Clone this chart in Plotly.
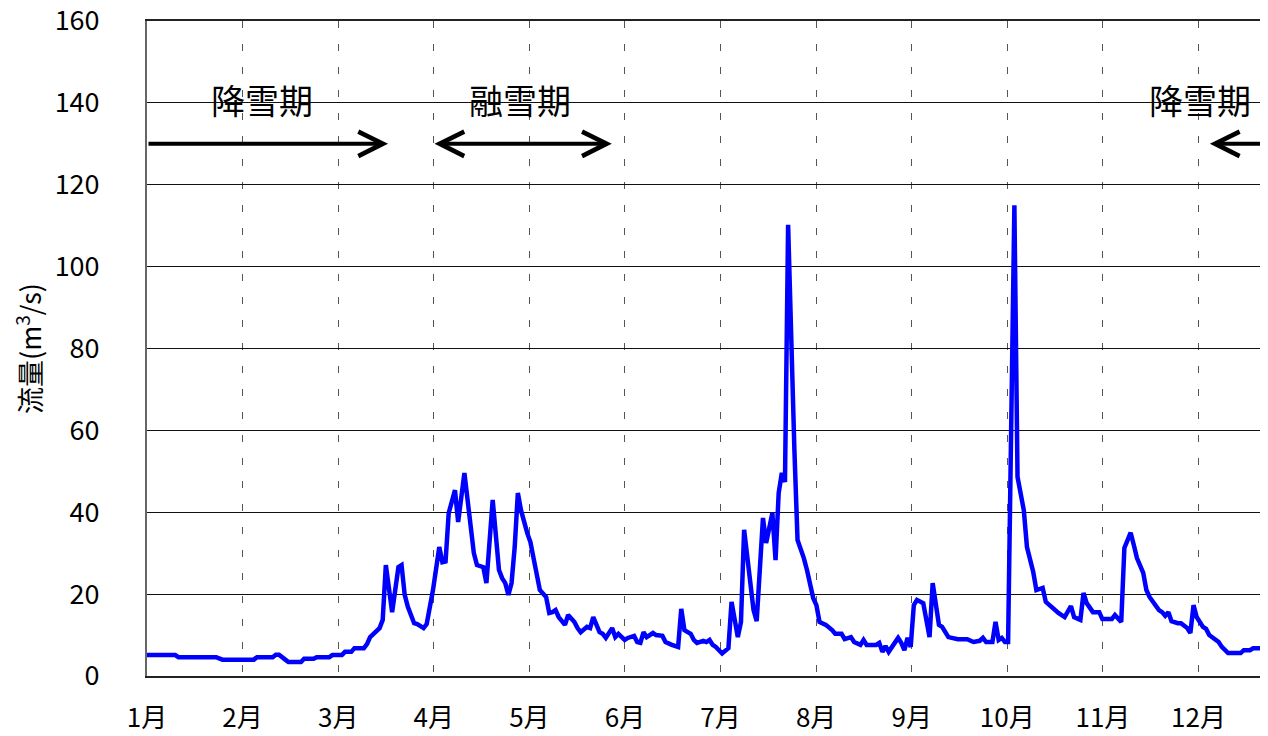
import plotly.graph_objects as go

# ---- data (day of year, discharge m3/s) ----
days = [0, 9, 10, 22, 24, 34, 35, 40, 41, 42, 44, 45, 49, 50, 53, 54, 58, 59, 62, 63,
        65, 66, 69, 70, 71, 73, 74, 75, 76, 78, 80, 81, 82, 83, 85, 86, 88, 89, 91, 93,
        94, 95, 96, 98, 99, 101, 104, 105, 107, 108, 110, 112, 113, 114, 115, 116, 117, 118, 119, 121,
        122, 123, 124, 125, 127, 128, 129, 130, 131, 132, 133, 134, 136, 137, 138, 140, 141, 142, 144, 145,
        146, 148, 149, 150, 152, 153, 155, 156, 157, 158, 159, 161, 162, 164, 165, 167, 169, 170, 171, 173,
        174, 175, 177, 178, 179, 180, 181, 183, 185, 186, 188, 189, 190, 193, 194, 196, 197, 199, 200, 201,
        202, 203, 204, 206, 207, 209, 210, 212, 213, 214, 216, 218, 219, 221, 222, 224, 225, 227, 228, 229,
        232, 233, 234, 235, 236, 239, 240, 241, 242, 243, 244, 245, 247, 249, 250, 252, 253, 255, 258, 261,
        263, 265, 266, 267, 269, 270, 271, 272, 273, 274, 276, 277, 279, 280, 281, 282, 283, 285, 286, 288,
        290, 292, 294, 295, 297, 298, 299, 301, 303, 304, 307, 308, 310, 311, 312, 313, 314, 315, 317, 318,
        319, 321, 322, 323, 324, 325, 326, 328, 329, 331, 332, 333, 334, 336, 337, 338, 340, 341, 342, 344,
        348, 349, 351, 352, 357]
flow = [5.1, 5.1, 4.6, 4.6, 4.0, 4.0, 4.6, 4.6, 5.2, 5.2, 4.0, 3.4, 3.4, 4.2, 4.2, 4.6, 4.6, 5.1, 5.1, 5.9,
        5.9, 6.8, 6.8, 7.8, 9.5, 11.0, 11.7, 13.7, 27.1, 15.6, 26.6, 27.1, 19.8, 16.9, 12.9, 12.7, 11.7, 12.7, 21.0, 31.5,
        27.8, 28.0, 39.8, 45.4, 37.6, 49.6, 30.0, 27.1, 26.6, 22.7, 43.0, 25.9, 23.9, 22.7, 19.8, 22.7, 31.5, 44.7, 40.5, 34.9,
        32.7, 28.8, 24.2, 21.0, 19.3, 15.4, 15.6, 16.1, 14.4, 13.2, 12.5, 14.9, 13.2, 11.7, 10.7, 12.0, 11.7, 14.4, 10.7, 10.3,
        9.3, 11.7, 9.5, 10.3, 8.8, 9.3, 9.8, 8.3, 8.1, 10.7, 9.5, 10.5, 10.0, 9.8, 8.3, 7.6, 7.1, 16.4, 11.2, 10.3,
        8.8, 8.1, 8.6, 8.3, 8.8, 7.6, 7.1, 5.5, 6.8, 18.1, 9.5, 13.2, 35.7, 16.1, 13.4, 38.6, 32.5, 39.8, 28.3, 44.7,
        49.6, 47.4, 110.2, 55.2, 33.2, 28.8, 25.9, 19.0, 17.3, 13.2, 12.5, 11.2, 10.3, 10.3, 9.0, 9.5, 8.3, 7.6, 8.8, 7.6,
        7.6, 8.1, 5.9, 7.3, 5.9, 9.3, 8.1, 6.3, 9.3, 7.1, 17.3, 18.6, 17.8, 9.5, 22.7, 12.5, 12.0, 9.5, 9.0, 9.0,
        8.3, 8.6, 9.3, 8.3, 8.3, 13.2, 8.8, 9.3, 8.3, 8.3, 115.0, 48.6, 40.5, 31.5, 28.3, 25.4, 21.0, 21.5, 18.1, 16.6,
        15.4, 14.4, 17.1, 14.4, 13.7, 20.3, 17.8, 15.6, 15.6, 13.9, 13.9, 14.9, 13.2, 31.3, 33.2, 35.0, 32.0, 28.8, 25.2, 21.0,
        19.3, 17.1, 16.1, 15.6, 14.7, 15.6, 13.4, 12.9, 12.9, 11.7, 10.5, 17.3, 14.4, 12.0, 11.5, 10.0, 9.0, 8.3, 7.1, 5.6,
        5.6, 6.3, 6.3, 6.8, 6.8]

month_labels = ["1月", "2月", "3月", "4月", "5月", "6月", "7月", "8月", "9月", "10月", "11月", "12月"]
month_ticks = [i * 365 / 12 for i in range(12)]
y_ticks = [0, 20, 40, 60, 80, 100, 120, 140, 160]

FONT = "Noto Sans CJK JP"

fig = go.Figure()
fig.add_trace(go.Scatter(x=days, y=flow, mode="lines",
                         line=dict(color="#0000FF", width=4.5),
                         hoverinfo="skip", showlegend=False))

# the page body has an 8px margin, so the figure is 8px smaller and margins shifted
fig.update_layout(
    width=1260, height=728,
    margin=dict(l=139, r=0, t=13, b=60, autoexpand=False),
    paper_bgcolor="white", plot_bgcolor="white",
    font=dict(family=FONT, size=27, color="black"),
    xaxis=dict(range=[0, 356.7], tickvals=month_ticks, ticktext=month_labels,
               showgrid=True, gridcolor="#555555", gridwidth=1.2, griddash="7px,16px",
               showline=True, linecolor="#222222", linewidth=2, mirror=True,
               ticks="outside", ticklen=18, tickcolor="rgba(0,0,0,0)",
               automargin=False,
               zeroline=False, tickfont=dict(family=FONT, size=26)),
    yaxis=dict(range=[0, 160], tickvals=y_ticks,
               showgrid=True, gridcolor="#111111", gridwidth=1,
               showline=True, linecolor="#666666", linewidth=2,
               ticks="outside", ticklen=40, tickcolor="rgba(0,0,0,0)",
               ticklabeloverflow="allow", automargin=False,
               zeroline=False, tickfont=dict(family=FONT, size=27),
               title=dict(text="流量(m<sup>3</sup>/s)", font=dict(family=FONT, size=27), standoff=5)),
)

# period labels
for txt, xc in [("降雪期", 36.7), ("融雪期", 118.7), ("降雪期", 335.0)]:
    fig.add_annotation(x=xc, y=140.8, xref="x", yref="y", text=txt, showarrow=False,
                       font=dict(family=FONT, size=34, color="black"))

# period arrows
arrow_style = dict(xref="x", yref="y", axref="x", ayref="y", text="", showarrow=True,
                   arrowhead=5, arrowsize=1.2, arrowwidth=4, arrowcolor="black", standoff=0, startstandoff=0)
fig.add_annotation(x=76.7, y=130, ax=0, ay=130, **arrow_style)
fig.add_annotation(x=147.9, y=130, ax=91.0, ay=130, arrowside="end+start", startarrowhead=5,
                   startarrowsize=1.2, **arrow_style)
fig.add_annotation(x=338.2, y=130, ax=356.7, ay=130, **arrow_style)

fig.write_html("out.html")
